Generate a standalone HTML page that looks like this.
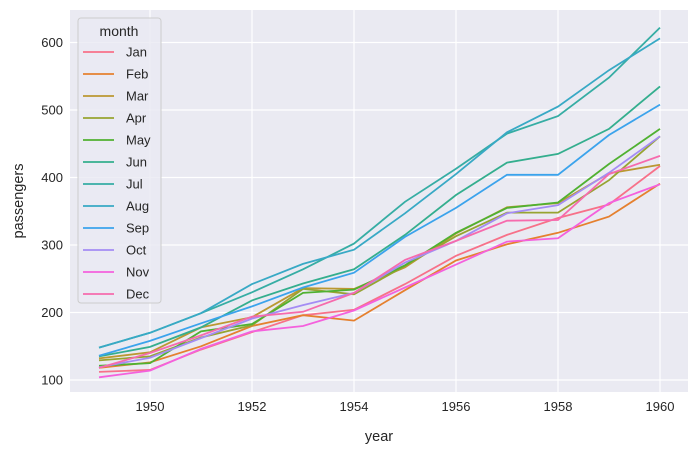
<!DOCTYPE html>
<html><head><meta charset="utf-8"><style>
body{margin:0;background:#fff}
svg{display:block;font-family:"Liberation Sans",sans-serif}
</style></head><body>
<svg id="s" width="699" height="452" xmlns="http://www.w3.org/2000/svg">
<rect x="70" y="10" width="618" height="382" fill="#eaeaf2"/>
<g id="grid" stroke="#fff" stroke-width="1.2"></g>
<g id="lines" fill="none" stroke-width="1.8"></g>
<g id="ticks" font-size="13" fill="#262626"></g>
<text x="379" y="441" font-size="14.5" text-anchor="middle" fill="#262626">year</text>
<text transform="translate(23,201) rotate(-90)" font-size="14.5" text-anchor="middle" fill="#262626">passengers</text>
<rect x="78" y="18" width="83" height="285" rx="3" fill="#eaeaf2" fill-opacity="0.8" stroke="#cccccc"/>
<text x="119" y="36" font-size="14" text-anchor="middle" fill="#262626">month</text>
<g id="leg" font-size="13" fill="#262626"></g>
</svg>
<script>
const D={1949:[112,118,132,129,121,135,148,148,136,119,104,118],
1950:[115,126,141,135,125,149,170,170,158,133,114,140],
1951:[145,150,178,163,172,178,199,199,184,162,146,166],
1952:[171,180,193,181,183,218,230,242,209,191,172,194],
1953:[196,196,236,235,229,243,264,272,237,211,180,201],
1954:[204,188,235,227,234,264,302,293,259,229,203,229],
1955:[242,233,267,269,270,315,364,347,312,274,237,278],
1956:[284,277,317,313,318,374,413,405,355,306,271,306],
1957:[315,301,356,348,355,422,465,467,404,347,305,336],
1958:[340,318,362,348,363,435,491,505,404,359,310,337],
1959:[360,342,406,396,420,472,548,559,463,407,362,405],
1960:[417,391,419,461,472,535,622,606,508,461,390,432]};
const M=["Jan","Feb","Mar","Apr","May","Jun","Jul","Aug","Sep","Oct","Nov","Dec"];
const C=["#f77189","#e5802f","#bb9832","#97a431","#50b131","#34ae8e","#36ada4","#38a9c5","#3ba3ec","#a48cf4","#f461dd","#f66bad"];
const X=y=>150+(y-1950)*51, Y=v=>380-(v-100)*0.675;
const ns="http://www.w3.org/2000/svg";
function el(p,t,a,txt){const e=document.createElementNS(ns,t);for(const k in a)e.setAttribute(k,a[k]);if(txt)e.textContent=txt;document.getElementById(p).appendChild(e);}
for(let y=1950;y<=1960;y+=2){el("grid","line",{x1:X(y),x2:X(y),y1:10,y2:392});el("ticks","text",{x:X(y),y:411,"text-anchor":"middle"},""+y);}
for(let v=100;v<=600;v+=100){el("grid","line",{x1:70,x2:688,y1:Y(v),y2:Y(v)});el("ticks","text",{x:63,y:Y(v)+4.5,"text-anchor":"end"},""+v);}
for(let m=0;m<12;m++){let pts=[];for(let y=1949;y<=1960;y++)pts.push(X(y)+","+Y(D[y][m]).toFixed(1));
el("lines","polyline",{points:pts.join(" "),stroke:C[m]});
const yy=52+m*22;el("leg","line",{x1:83,x2:114,y1:yy,y2:yy,stroke:C[m],"stroke-width":1.8});
el("leg","text",{x:126,y:yy+4.5},M[m]);}
</script>
</body></html>
